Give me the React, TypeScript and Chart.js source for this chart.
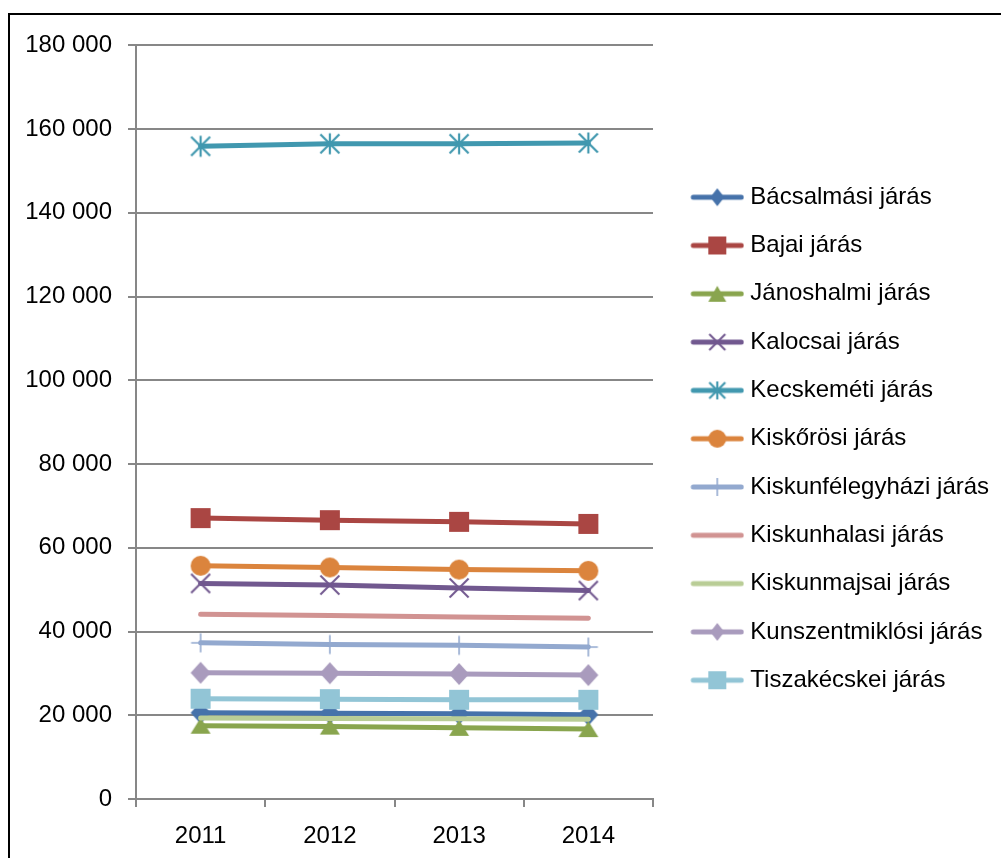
import React, { useEffect, useRef } from 'react';
import { Chart, registerables } from 'chart.js';

Chart.register(...registerables);

const years = ['2011', '2012', '2013', '2014'];
const seriesNames = [
  'Bácsalmási járás', 'Bajai járás', 'Jánoshalmi járás', 'Kalocsai járás', 'Kecskeméti járás',
  'Kiskőrösi járás', 'Kiskunfélegyházi járás', 'Kiskunhalasi járás', 'Kiskunmajsai járás',
  'Kunszentmiklósi járás', 'Tiszakécskei járás',
];
const bacsalmasi = [20600, 20500, 20350, 20150];
const bajai = [67100, 66600, 66200, 65700];
const janoshalmi = [17500, 17300, 17000, 16700];
const kalocsai = [51500, 51100, 50400, 49800];
const kecskemeti = [155900, 156500, 156500, 156700];
const kiskorosi = [55700, 55300, 54800, 54500];
const kiskunfelegyhazi = [37300, 36900, 36700, 36300];
const kiskunhalasi = [44100, 43800, 43500, 43200];
const kiskunmajsai = [19350, 19250, 19150, 19050];
const kunszentmiklosi = [30150, 30050, 29850, 29600];
const tiszakecskei = [23950, 23850, 23700, 23700];
const seriesValues = [
  bacsalmasi, bajai, janoshalmi, kalocsai, kecskemeti, kiskorosi,
  kiskunfelegyhazi, kiskunhalasi, kiskunmajsai, kunszentmiklosi, tiszakecskei,
];
const colors = [
  '#4672AA', '#AA4643', '#89A54E', '#71588F', '#4198AF', '#DB843D',
  '#93A9CF', '#D19392', '#B9CD96', '#A99BBD', '#92C5D6',
];
const markers = [
  'diamond', 'square', 'triangle', 'x', 'asterisk', 'circle',
  'plus', 'none', 'none', 'diamond', 'square',
];
const yMin = 0;
const yMax = 180000;
const yStep = 20000;

const FONT = "'Liberation Sans', Arial, sans-serif";
const FS = 24;

function drawMarker(ctx: CanvasRenderingContext2D, type: string, x: number, y: number, color: string, legend: boolean) {
  ctx.save();
  ctx.fillStyle = color;
  ctx.strokeStyle = color;
  ctx.lineCap = 'butt';
  ctx.beginPath();
  if (type === 'diamond') {
    const hw = legend ? 7 : 10, hh = legend ? 9 : 11;
    ctx.moveTo(x, y - hh); ctx.lineTo(x + hw, y); ctx.lineTo(x, y + hh); ctx.lineTo(x - hw, y); ctx.closePath();
    ctx.fill();
  } else if (type === 'square') {
    const h = legend ? 9 : 10;
    ctx.rect(x - h, y - h, 2 * h, 2 * h);
    ctx.fill();
  } else if (type === 'triangle') {
    const hw = legend ? 9 : 10, hh = 8;
    ctx.moveTo(x, y - hh); ctx.lineTo(x + hw, y + hh); ctx.lineTo(x - hw, y + hh); ctx.closePath();
    ctx.fill();
  } else if (type === 'circle') {
    ctx.arc(x, y, legend ? 9 : 10, 0, Math.PI * 2);
    ctx.fill();
  } else if (type === 'x') {
    const h = legend ? 8 : 9.5;
    ctx.lineWidth = 2;
    ctx.moveTo(x - h, y - h); ctx.lineTo(x + h, y + h);
    ctx.moveTo(x + h, y - h); ctx.lineTo(x - h, y + h);
    ctx.stroke();
  } else if (type === 'asterisk') {
    const h = legend ? 8 : 9.5;
    ctx.lineWidth = 2.2;
    ctx.moveTo(x - h, y - h); ctx.lineTo(x + h, y + h);
    ctx.moveTo(x + h, y - h); ctx.lineTo(x - h, y + h);
    ctx.moveTo(x, y - h - 1); ctx.lineTo(x, y + h + 1);
    ctx.stroke();
  } else if (type === 'plus') {
    const h = legend ? 9 : 9.5;
    ctx.lineWidth = 1.6;
    ctx.moveTo(x, y - h); ctx.lineTo(x, y + h);
    ctx.moveTo(x - h, y); ctx.lineTo(x + h, y);
    ctx.stroke();
  }
  ctx.restore();
}

function makePointImg(type: string, color: string) {
  const c = document.createElement('canvas');
  c.width = 26; c.height = 26;
  const ctx = c.getContext('2d')!;
  drawMarker(ctx, type, 13, 13, color, false);
  return c;
}

const LEG_W = 61;
function makeLegendImg(type: string, color: string) {
  const c = document.createElement('canvas');
  c.width = 73; c.height = 26;
  const ctx = c.getContext('2d')!;
  ctx.strokeStyle = color;
  ctx.lineWidth = 5;
  ctx.lineCap = 'round';
  ctx.beginPath();
  ctx.moveTo(22, 13); ctx.lineTo(70, 13);
  ctx.stroke();
  if (type !== 'none') drawMarker(ctx, type, 46, 13, color, true);
  return c;
}

export default function App() {
  const ref = useRef<HTMLCanvasElement>(null);
  useEffect(() => {
    const canvas = ref.current!;
    const W = 991;
    const legendPad = 24.3;
    const mctx = document.createElement('canvas').getContext('2d')!;
    mctx.font = `${FS}px ${FONT}`;
    const maxText = Math.max(...seriesNames.map((s) => mctx.measureText(s).width));
    const legendWidth = legendPad + LEG_W + FS / 2 + maxText + 10;
    const plotRight = 643;
    const padRight = Math.max(0, W - plotRight - legendWidth);

    const legendImgs = seriesNames.map((_, i) => makeLegendImg(markers[i], colors[i]));
    const n = seriesNames.length;
    const datasets = seriesNames.map((name, i) => ({
      label: name,
      data: seriesValues[i],
      borderColor: colors[i],
      backgroundColor: colors[i],
      borderWidth: 5,
      borderCapStyle: 'round' as const,
      borderJoinStyle: 'round' as const,
      tension: 0,
      order: n - 1 - i,
      pointStyle: markers[i] === 'none' ? 'circle' : (makePointImg(markers[i], colors[i]) as any),
      pointRadius: markers[i] === 'none' ? 0 : 10,
      pointHoverRadius: markers[i] === 'none' ? 0 : 10,
    }));

    const chart = new Chart(canvas, {
      type: 'line',
      data: { labels: years, datasets },
      options: {
        animation: false,
        responsive: false,
        devicePixelRatio: 1,
        layout: { padding: { top: 28, left: 0, right: padRight, bottom: 0 } },
        plugins: {
          tooltip: { enabled: false },
          legend: {
            position: 'right',
            align: 'center',
            fullSize: false,
            maxWidth: 600,
            title: { display: true, text: ' ', font: { size: 10 }, padding: { top: 21, bottom: 0 } },
            labels: {
              usePointStyle: true,
              pointStyleWidth: LEG_W,
              padding: legendPad,
              color: '#000',
              font: { family: FONT, size: FS },
              generateLabels: (ch: any) =>
                ch.data.datasets.map((ds: any, i: number) => ({
                  text: ds.label,
                  pointStyle: legendImgs[i],
                  datasetIndex: i,
                  hidden: false,
                  lineWidth: 0,
                  strokeStyle: 'rgba(0,0,0,0)',
                  fillStyle: 'rgba(0,0,0,0)',
                  fontColor: '#000',
                })),
            },
          },
        },
        scales: {
          x: {
            offset: true,
            grid: { display: true, drawOnChartArea: false, offset: true, color: '#878787', lineWidth: 2, tickLength: 8 },
            border: { display: true, color: '#878787', width: 2 },
            ticks: { color: '#000', font: { family: FONT, size: FS }, padding: 15, maxRotation: 0 },
            afterFit: (s: any) => { s.height = 59; },
          },
          y: {
            min: yMin,
            max: yMax,
            grid: { color: '#878787', lineWidth: 2, tickLength: 8 },
            border: { display: true, color: '#878787', width: 2 },
            ticks: {
              stepSize: yStep,
              color: '#000',
              font: { family: FONT, size: FS },
              padding: 16,
              callback: (v: any) => String(v).replace(/\B(?=(\d{3})+(?!\d))/g, ' '),
            },
            afterFit: (s: any) => { s.width = 126; },
          },
        },
      },
    });
    return () => chart.destroy();
  }, []);

  return (
    <div
      style={{
        position: 'absolute', left: 8, top: 13, width: 993, height: 845,
        borderTop: '2px solid #000', borderLeft: '2px solid #000', boxSizing: 'border-box', background: '#fff',
      }}
    >
      <canvas ref={ref} width={991} height={843} style={{ display: 'block', width: 991, height: 843 }} />
    </div>
  );
}
